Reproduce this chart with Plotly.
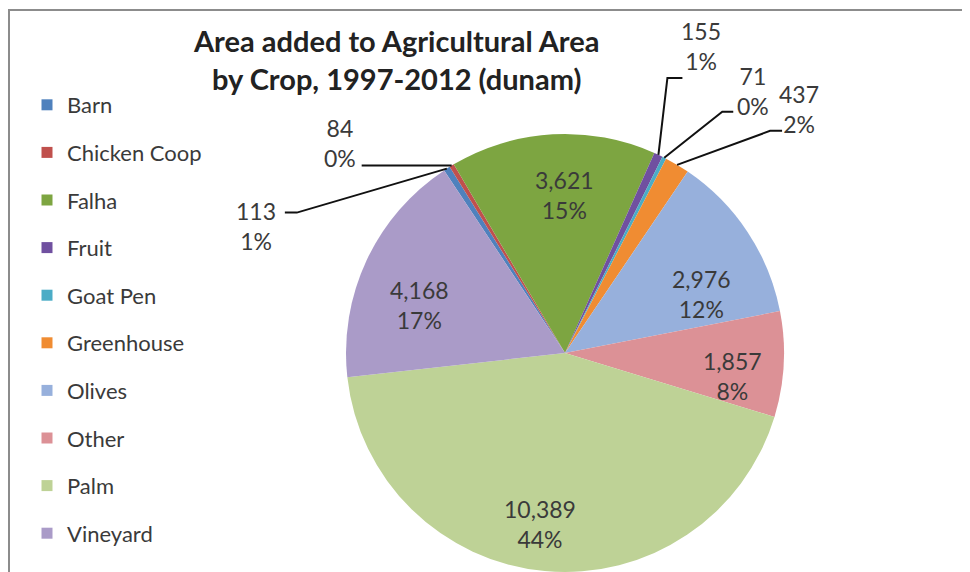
import math
import plotly.graph_objects as go

crops = ["Barn", "Chicken Coop", "Falha", "Fruit", "Goat Pen", "Greenhouse",
         "Olives", "Other", "Palm", "Vineyard"]
area = [113, 84, 3621, 155, 71, 437, 2976, 1857, 10389, 4168]
pct_text = ["1%", "0%", "15%", "1%", "0%", "2%", "12%", "8%", "44%", "17%"]
colors = ["#4F81BD", "#C0504D", "#7DA541", "#7050A0", "#4BACC6", "#F08C32",
          "#97B0DC", "#DC9196", "#BED296", "#AA9BC8"]

W, H = 970, 572
OFF = 8  # page body margin, the figure sits 8px in from the window corner
CX, CY, R = 565, 353, 219  # window pixels
START = -33.5  # first slice starts here, degrees clockwise from 12 o'clock
FONT = "Lato"
TXT = "#3a3a3a"


def paper(x, y):
    return (x - OFF) / W, 1 - (y - OFF) / H


# outside labels for the small slices: offsets from the slice's edge point (px)
outside = {
    "Barn": dict(text=(-191, 57), elbow=(-150, 44), tail=(-162, 44)),
    "Chicken Coop": dict(text=(-112, -23), elbow=(-7, 0), tail=(-90, 0)),
    "Fruit": dict(text=(43, -109), elbow=(9, -77), tail=(24, -77)),
    "Goat Pen": dict(text=(89, -67), elbow=(58, -46), tail=(69, -46)),
    "Greenhouse": dict(text=(122, -56), elbow=(93, -34), tail=(105, -34)),
}
inside_r = {"Falha": 0.72, "Olives": 0.68, "Other": 0.77, "Palm": 0.79, "Vineyard": 0.70}
inside_shift = {"Falha": 3, "Olives": 10, "Other": 5, "Palm": 3, "Vineyard": -7}

total = sum(area)
x0, y1 = paper(CX - R, CY - R)
x1, y0 = paper(CX + R, CY + R)
fig = go.Figure()
fig.add_trace(go.Pie(
    labels=crops, values=area, sort=False, direction="clockwise", rotation=START,
    marker=dict(colors=colors, line=dict(width=0)),
    textinfo="none", hoverinfo="label+value+percent", showlegend=False,
    domain=dict(x=[x0, x1], y=[max(y0, 0), y1]),
))

# legend through one dummy trace per crop, so the spacing can be opened up
for name, col in zip(crops, colors):
    fig.add_trace(go.Scatter(x=[None], y=[None], mode="markers", name=name,
                             legendgroup=name,
                             marker=dict(symbol="square", size=11, color=col)))

shapes = []
annotations = []
cum = 0
for name, v, pt in zip(crops, area, pct_text):
    mid = START + (cum + v / 2) / total * 360
    cum += v
    if name in outside:
        a = math.radians(mid)
        ex, ey = CX + R * math.sin(a), CY - R * math.cos(a)
        o = outside[name]
        p0 = paper(ex + o["tail"][0], ey + o["tail"][1])
        p1 = paper(ex + o["elbow"][0], ey + o["elbow"][1])
        p2 = paper(ex, ey)
        shapes.append(dict(type="path", xref="paper", yref="paper",
                           path=f"M {p0[0]},{p0[1]} L {p1[0]},{p1[1]} L {p2[0]},{p2[1]}",
                           line=dict(color="#111111", width=2)))
        lx, ly = paper(ex + o["text"][0], ey + o["text"][1])
    else:
        a = math.radians(mid + inside_shift[name])
        rr = R * inside_r[name]
        lx, ly = paper(CX + rr * math.sin(a), CY - rr * math.cos(a))
    annotations.append(dict(x=lx, y=ly, xref="paper", yref="paper", showarrow=False,
                            xanchor="center", yanchor="middle",
                            text=f"{v:,}<br>{pt}", align="center",
                            font=dict(family=FONT, size=23, color=TXT)))

tx, ty = paper(396, 59)
annotations.append(dict(x=tx, y=ty, xref="paper", yref="paper", showarrow=False,
                        xanchor="center", yanchor="middle",
                        text="<b>Area added to Agricultural Area<br>by Crop, 1997-2012 (dunam)</b>",
                        font=dict(family=FONT, size=29, color="#222222")))

# chart frame
shapes.append(dict(type="rect", xref="paper", yref="paper", x0=1 / W, x1=1.2, y0=-0.2,
                   y1=1 - 2 / H, line=dict(color="#8c8c8c", width=2)))

lx, ly = paper(27, 84)
fig.update_layout(
    width=W, height=H, margin=dict(l=0, r=0, t=0, b=0),
    paper_bgcolor="white", plot_bgcolor="white",
    xaxis=dict(visible=False), yaxis=dict(visible=False),
    shapes=shapes, annotations=annotations,
    legend=dict(x=lx, y=ly, xanchor="left", yanchor="top",
                tracegroupgap=16, traceorder="grouped",
                font=dict(family=FONT, size=22, color=TXT)),
)
fig.write_html("out.html")
